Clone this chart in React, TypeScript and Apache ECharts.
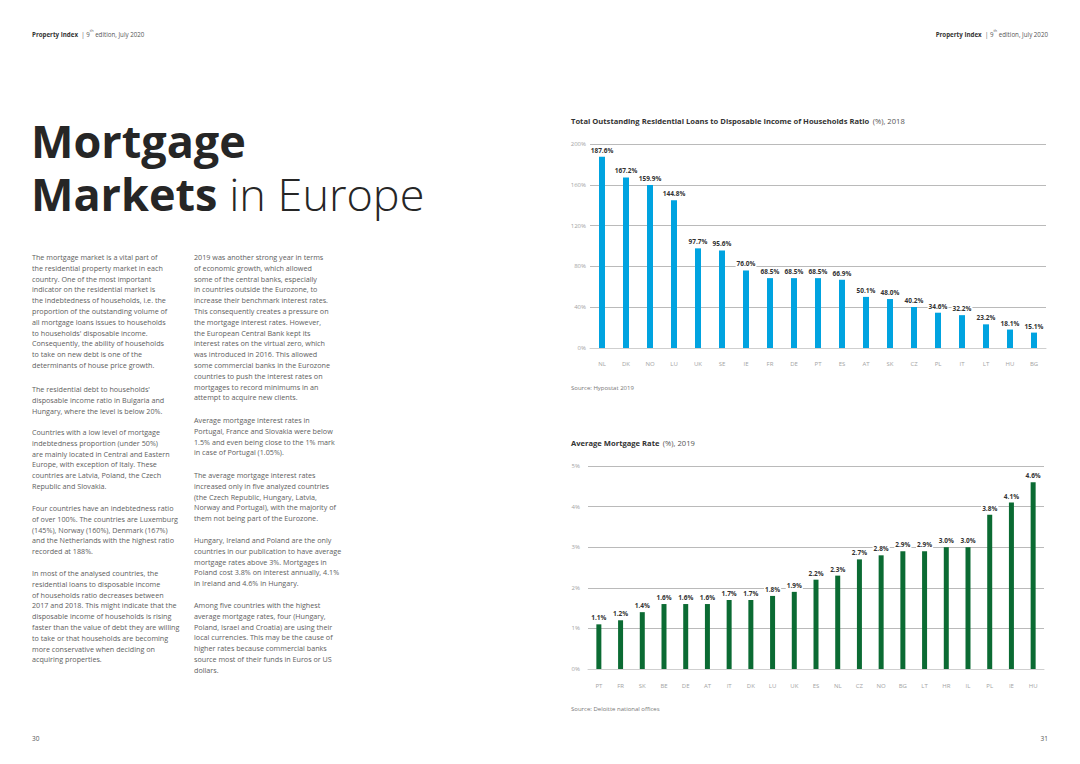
import React, { useEffect, useRef } from "react";
import * as echarts from "echarts";

const loanCountries = ["NL", "DK", "NO", "LU", "UK", "SE", "IE", "FR", "DE", "PT", "ES", "AT", "SK", "CZ", "PL", "IT", "LT", "HU", "BG"];
const loanRatios = [187.6, 167.2, 159.9, 144.8, 97.7, 95.6, 76.0, 68.5, 68.5, 68.5, 66.9, 50.1, 48.0, 40.2, 34.6, 32.2, 23.2, 18.1, 15.1];

const rateCountries = ["PT", "FR", "SK", "BE", "DE", "AT", "IT", "DK", "LU", "UK", "ES", "NL", "CZ", "NO", "BG", "LT", "HR", "IL", "PL", "IE", "HU"];
const rateValues = [1.1, 1.2, 1.4, 1.6, 1.6, 1.6, 1.7, 1.7, 1.8, 1.9, 2.2, 2.3, 2.7, 2.8, 2.9, 2.9, 3.0, 3.0, 3.8, 4.1, 4.6];

const col1 = [
  "The mortgage market is a vital part of\nthe residential property market in each\ncountry. One of the most important\nindicator on the residential market is\nthe indebtedness of households, i.e. the\nproportion of the outstanding volume of\nall mortgage loans issues to households\nto households' disposable income.\nConsequently, the ability of households\nto take on new debt is one of the\ndeterminants of house price growth.",
  "The residential debt to households'\ndisposable income ratio in Bulgaria and\nHungary, where the level is below 20%.",
  "Countries with a low level of mortgage\nindebtedness proportion (under 50%)\nare mainly located in Central and Eastern\nEurope, with exception of Italy. These\ncountries are Latvia, Poland, the Czech\nRepublic and Slovakia.",
  "Four countries have an indebtedness ratio\nof over 100%. The countries are Luxemburg\n(145%), Norway (160%), Denmark (167%)\nand the Netherlands with the highest ratio\nrecorded at 188%.",
  "In most of the analysed countries, the\nresidential loans to disposable income\nof households ratio decreases between\n2017 and 2018. This might indicate that the\ndisposable income of households is rising\nfaster than the value of debt they are willing\nto take or that households are becoming\nmore conservative when deciding on\nacquiring properties.",
];
const col1Y = [257, 389, 432, 508, 573];

const col2 = [
  "2019 was another strong year in terms\nof economic growth, which allowed\nsome of the central banks, especially\nin countries outside the Eurozone, to\nincrease their benchmark interest rates.\nThis consequently creates a pressure on\nthe mortgage interest rates. However,\nthe European Central Bank kept its\ninterest rates on the virtual zero, which\nwas introduced in 2016. This allowed\nsome commercial banks in the Eurozone\ncountries to push the interest rates on\nmortgages to record minimums in an\nattempt to acquire new clients.",
  "Average mortgage interest rates in\nPortugal, France and Slovakia were below\n1.5% and even being close to the 1% mark\nin case of Portugal (1.05%).",
  "The average mortgage interest rates\nincreased only in five analyzed countries\n(the Czech Republic, Hungary, Latvia,\nNorway and Portugal), with the majority of\nthem not being part of the Eurozone.",
  "Hungary, Ireland and Poland are the only\ncountries in our publication to have average\nmortgage rates above 3%. Mortgages in\nPoland cost 3.8% on interest annually, 4.1%\nin Ireland and 4.6% in Hungary.",
  "Among five countries with the highest\naverage mortgage rates, four (Hungary,\nPoland, Israel and Croatia) are using their\nlocal currencies. This may be the cause of\nhigher rates because commercial banks\nsource most of their funds in Euros or US\ndollars.",
];
const col2Y = [257, 420, 475, 540, 605];

const FONT = "'Open Sans', 'Noto Sans', sans-serif";
const LH = 10.8;

export default function App() {
  const ref = useRef<HTMLDivElement>(null);
  useEffect(() => {
    document.body.style.margin = "0";
    const chart = echarts.init(ref.current!, undefined, { renderer: "svg" });

    const bodyText = (paras: string[], ys: number[], x: number) =>
      paras.map((t, i) => ({
        type: "text",
        left: x,
        top: ys[i] - LH / 2,
        style: { text: t, fontFamily: FONT, fontSize: 7.2, lineHeight: LH, fill: "#5e5e5e" },
      }));

    const header = (x: number, align: string) => ({
      type: "text",
      x,
      y: 34,
      style: {
        text: "{b|Property Index} {n|| 9}{s|th}{n| edition, July 2020}",
        align,
        verticalAlign: "middle",
        rich: {
          b: { fontFamily: FONT, fontSize: 6.2, fontWeight: "bold", fill: "#333", lineHeight: 9 },
          n: { fontFamily: FONT, fontSize: 6.2, fill: "#555", lineHeight: 9 },
          s: { fontFamily: FONT, fontSize: 3.8, fill: "#555", lineHeight: 9, verticalAlign: "top" },
        },
      },
    });

    const axisLabel = { color: "#a3a3a3", fontSize: 6, fontFamily: FONT };
    const dataLabel = (fmt: (v: number) => string) => ({
      show: true,
      position: "top",
      distance: 2,
      formatter: (p: any) => fmt(p.value),
      color: "#333",
      fontSize: 6.5,
      fontWeight: "bold",
      fontFamily: FONT,
      backgroundColor: "#fff",
      padding: [1, 1],
    });

    chart.setOption({
      animation: false,
      backgroundColor: "#fff",
      grid: [
        { left: 590, top: 144, width: 456, height: 204 },
        { left: 588, top: 466, width: 456, height: 203 },
      ],
      xAxis: [
        {
          type: "category",
          gridIndex: 0,
          data: loanCountries,
          axisTick: { show: false },
          axisLine: { lineStyle: { color: "#cfcfcf", width: 1 } },
          axisLabel: { ...axisLabel, margin: 13 },
        },
        {
          type: "category",
          gridIndex: 1,
          data: rateCountries,
          axisTick: { show: false },
          axisLine: { lineStyle: { color: "#cfcfcf", width: 1 } },
          axisLabel: { ...axisLabel, margin: 14 },
        },
      ],
      yAxis: [
        {
          type: "value",
          gridIndex: 0,
          min: 0,
          max: 200,
          interval: 40,
          axisLabel: { ...axisLabel, margin: 4, formatter: "{value}%" },
          splitLine: { showMinLine: false, lineStyle: { color: "#a8a8a8", width: 0.8 } },
        },
        {
          type: "value",
          gridIndex: 1,
          min: 0,
          max: 5,
          interval: 1,
          axisLabel: { ...axisLabel, margin: 8, formatter: "{value}%" },
          splitLine: { showMinLine: false, lineStyle: { color: "#a8a8a8", width: 0.8 } },
        },
      ],
      series: [
        {
          type: "bar",
          xAxisIndex: 0,
          yAxisIndex: 0,
          data: loanRatios,
          barWidth: 6,
          itemStyle: { color: "#00a3e0" },
          label: dataLabel((v) => v.toFixed(1) + "%"),
        },
        {
          type: "bar",
          xAxisIndex: 1,
          yAxisIndex: 1,
          data: rateValues,
          barWidth: 5,
          itemStyle: { color: "#0b6b33" },
          label: dataLabel((v) => v.toFixed(1) + "%"),
        },
      ],
      graphic: [
        header(32, "left"),
        header(1048, "right"),
        {
          type: "text",
          x: 31,
          y: 167,
          style: {
            text: "{b|Mortgage}\n{b|Markets}{l| in Europe}",
            verticalAlign: "middle",
            rich: {
              b: { fontFamily: FONT, fontSize: 45, fontWeight: "bold", fill: "#262626", lineHeight: 53 },
              l: { fontFamily: FONT, fontSize: 45, fontWeight: 300, fill: "#262626", lineHeight: 53 },
            },
          },
        },
        ...bodyText(col1, col1Y, 32),
        ...bodyText(col2, col2Y, 194),
        {
          type: "text",
          x: 571,
          y: 121,
          style: {
            text: "{b|Total Outstanding Residential Loans to Disposable Income of Households Ratio} {n|(%), 2018}",
            verticalAlign: "middle",
            rich: {
              b: { fontFamily: FONT, fontSize: 7.6, fontWeight: "bold", fill: "#333" },
              n: { fontFamily: FONT, fontSize: 7.6, fill: "#555" },
            },
          },
        },
        {
          type: "text",
          x: 571,
          y: 443,
          style: {
            text: "{b|Average Mortgage Rate} {n|(%), 2019}",
            verticalAlign: "middle",
            rich: {
              b: { fontFamily: FONT, fontSize: 7.6, fontWeight: "bold", fill: "#333" },
              n: { fontFamily: FONT, fontSize: 7.6, fill: "#555" },
            },
          },
        },
        {
          type: "text",
          x: 571,
          y: 388,
          style: { text: "Source: Hypostat 2019", fontFamily: FONT, fontSize: 6, fill: "#777", verticalAlign: "middle" },
        },
        {
          type: "text",
          x: 571,
          y: 709,
          style: { text: "Source: Deloitte national offices", fontFamily: FONT, fontSize: 6, fill: "#777", verticalAlign: "middle" },
        },
        {
          type: "text",
          x: 32,
          y: 738,
          style: { text: "30", fontFamily: FONT, fontSize: 6.5, fill: "#555", verticalAlign: "middle" },
        },
        {
          type: "text",
          x: 1048,
          y: 738,
          style: { text: "31", fontFamily: FONT, fontSize: 6.5, fill: "#555", align: "right", verticalAlign: "middle" },
        },
      ],
    });
    return () => chart.dispose();
  }, []);
  return <div ref={ref} style={{ width: 1080, height: 764 }} />;
}
